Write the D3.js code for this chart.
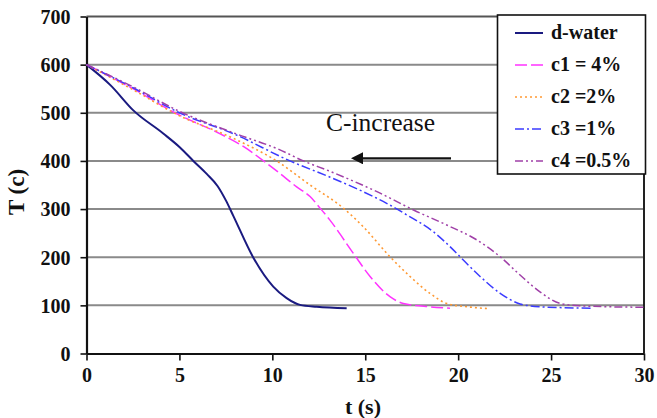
<!DOCTYPE html>
<html>
<head>
<meta charset="utf-8">
<script src="https://cdn.jsdelivr.net/npm/d3@7"></script>
</head>
<body style="margin:0">
<svg id="chart" width="657" height="418" font-family="Liberation Serif" style="font-family: 'Liberation Serif'"></svg>
<script>
// Cooling curves: temperature T (°C) versus time t (s)
const xTicks = [0, 5, 10, 15, 20, 25, 30];
const yTicks = [0, 100, 200, 300, 400, 500, 600, 700];

const seriesNames = ["d-water", "c1 = 4%", "c2 =2%", "c3 =1%", "c4 =0.5%"];

const dWater = [
  [0, 600], [1.3, 557], [2.52, 505], [4.13, 457], [5.03, 428], [5.75, 400],
  [6.47, 373], [7.05, 348], [7.5, 318], [7.9, 286], [8.98, 199], [10.05, 139],
  [10.77, 115], [11.49, 101], [12.39, 97], [14.0, 94]
];
const c1 = [
  [0, 600], [2.5, 550], [5, 495], [7, 460], [8.44, 430], [9.6, 398], [10.41, 374],
  [11.31, 346], [12.03, 326], [12.57, 302], [13.1, 277], [14.36, 208], [15.26, 160],
  [16.33, 118], [17.05, 104], [18.48, 97], [19.56, 94]
];
const c2 = [
  [0, 600], [2.5, 548], [5, 494], [7.9, 447], [10.23, 400], [12.03, 350],
  [13.82, 302], [14.9, 263], [16.33, 201], [17.41, 160], [18.48, 125],
  [19.38, 104], [20.5, 97], [21.7, 93]
];
const c3 = [
  [0, 600], [2.5, 552], [5, 500], [8, 455], [10.95, 400], [13, 368], [14.5, 343],
  [16.15, 312], [17.23, 288], [18.66, 253], [19.56, 222], [20.1, 201], [21.18, 160],
  [22.26, 125], [23.33, 103], [24.4, 97], [27.2, 94]
];
const c4 = [
  [0, 600], [2.5, 554], [5, 503], [8, 457], [10.41, 423], [11.67, 400], [13, 380],
  [15.8, 333], [17.6, 298], [19.38, 267], [21, 236], [22.26, 201], [23.33, 163],
  [24.4, 128], [25.48, 104], [26.56, 99], [30, 96]
];

const seriesValues = [dWater, c1, c2, c3, c4];
const colors = ["#1a1a80", "#ff33ff", "#ff9933", "#3b3bff", "#a040a8"];
const dashes = [null, "12,4", "2,3", "9,3,2,3", "8,3,2,3,2,3"];
const widths = [2, 1.5, 1.6, 1.5, 1.5];

const svg = d3.select("#chart");
const m = { left: 86.5, right: 644, top: 16.5, bottom: 353.5 };

const x = d3.scaleLinear().domain([0, 30]).range([m.left, m.right]);
const y = d3.scaleLinear().domain([0, 700]).range([m.bottom, m.top]);

// horizontal gridlines
svg.append("g")
  .selectAll("line")
  .data(yTicks.filter(d => d > 0))
  .join("line")
  .attr("x1", m.left).attr("x2", m.right)
  .attr("y1", d => y(d)).attr("y2", d => y(d))
  .attr("stroke", d => d === 700 ? "#555" : "#8a8a8a")
  .attr("stroke-width", 2);

// right border of the plot area
svg.append("line")
  .attr("x1", m.right).attr("x2", m.right)
  .attr("y1", m.top).attr("y2", m.bottom)
  .attr("stroke", "#222").attr("stroke-width", 2);

// axes
const xAxis = d3.axisBottom(x).tickValues(xTicks).tickSize(7).tickSizeOuter(0).tickPadding(6);
const yAxis = d3.axisLeft(y).tickValues(yTicks).tickSize(6).tickSizeOuter(0).tickPadding(10);

const gx = svg.append("g").attr("transform", `translate(0,${m.bottom})`).call(xAxis);
const gy = svg.append("g").attr("transform", `translate(${m.left},0)`).call(yAxis);

[gx, gy].forEach(g => {
  g.attr("font-family", "Liberation Serif").attr("font-size", 20).attr("font-weight", "bold");
  g.select(".domain").attr("stroke", "#111").attr("stroke-width", 2.2);
  g.selectAll(".tick line").attr("stroke", "#111").attr("stroke-width", 1.6);
  g.selectAll(".tick text").attr("fill", "#111");
});
gy.selectAll(".tick text").attr("dy", "0.34em");
gx.selectAll(".tick text").attr("dy", "0.78em");

// axis titles
svg.append("text")
  .attr("x", 363).attr("y", 414)
  .attr("text-anchor", "middle")
  .attr("font-weight", "bold").attr("font-size", 22)
  .attr("fill", "#111")
  .text("t (s)");

svg.append("text")
  .attr("transform", "translate(24,192) rotate(-90)")
  .attr("text-anchor", "middle")
  .attr("font-weight", "bold").attr("font-size", 23)
  .attr("fill", "#111")
  .text("T (c)");

// curves
const line = d3.line()
  .x(d => x(d[0]))
  .y(d => y(d[1]))
  .curve(d3.curveMonotoneX);

svg.append("g")
  .selectAll("path")
  .data(seriesValues)
  .join("path")
  .attr("d", d => line(d))
  .attr("fill", "none")
  .attr("stroke", (d, i) => colors[i])
  .attr("stroke-width", (d, i) => widths[i])
  .attr("stroke-dasharray", (d, i) => dashes[i])
  .attr("stroke-linejoin", "round");

// annotation: direction of increasing concentration
svg.append("text")
  .attr("x", 326).attr("y", 131)
  .attr("font-size", 25.5)
  .attr("fill", "#111")
  .text("C-increase");

svg.append("defs").append("marker")
  .attr("id", "arrowhead")
  .attr("viewBox", "0 0 10 10")
  .attr("refX", 0).attr("refY", 5)
  .attr("markerUnits", "userSpaceOnUse")
  .attr("markerWidth", 17).attr("markerHeight", 12)
  .attr("orient", "auto")
  .append("path")
  .attr("d", "M0,0 L10,5 L0,10 Z")
  .attr("fill", "#111");

svg.append("line")
  .attr("x1", 451).attr("y1", 158.3)
  .attr("x2", 363).attr("y2", 158.3)
  .attr("stroke", "#111").attr("stroke-width", 2.2)
  .attr("marker-end", "url(#arrowhead)");

// legend
const legend = svg.append("g");
legend.append("rect")
  .attr("x", 497.5).attr("y", 15)
  .attr("width", 148).attr("height", 159)
  .attr("fill", "#fff")
  .attr("stroke", "#111").attr("stroke-width", 1.6);

const rowY = d3.scalePoint().domain(seriesNames).range([33, 161]);
const rows = legend.selectAll("g.row")
  .data(seriesNames)
  .join("g")
  .attr("class", "row")
  .attr("transform", d => `translate(0,${rowY(d)})`);

rows.append("line")
  .attr("x1", 515).attr("x2", 543)
  .attr("y1", 0).attr("y2", 0)
  .attr("stroke", (d, i) => colors[i])
  .attr("stroke-width", (d, i) => widths[i])
  .attr("stroke-dasharray", (d, i) => dashes[i]);

rows.append("text")
  .attr("x", 551).attr("y", 0).attr("dy", "0.32em")
  .attr("font-weight", "bold").attr("font-size", 20)
  .attr("fill", "#111")
  .text(d => d);
</script>
</body>
</html>
